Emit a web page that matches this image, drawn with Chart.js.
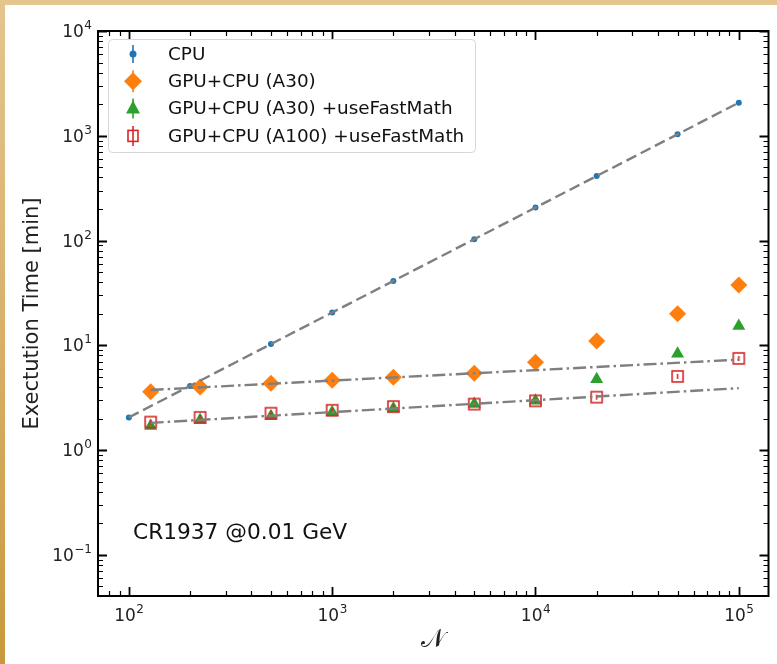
<!DOCTYPE html>
<html>
<head>
<meta charset="utf-8">
<script src="https://cdn.jsdelivr.net/npm/chart.js@4.4.1/dist/chart.umd.min.js"></script>
<style>
  html, body { margin: 0; padding: 0; }
  body {
    width: 777px; height: 664px; overflow: hidden; position: relative;
    background: linear-gradient(to bottom, #e4c58e 0%, #d8b06a 50%, #c8983c 100%);
  }
  #wrap { position: absolute; left: 5px; top: 5px; width: 772px; height: 659px; background: #fff; }
</style>
</head>
<body>
<div id="wrap"><canvas id="timing" width="772" height="659"></canvas></div>
<script>
// number of events per run
const nCpu = [100, 200, 500, 1000, 2000, 5000, 10000, 20000, 50000, 100000];
const nGpu = [128, 224, 500, 1000, 2000, 5000, 10000, 20000, 50000, 100000];

// execution time in minutes
const cpuTime = [2.05, 4.1, 10.3, 20.6, 41, 103, 207, 413, 1035, 2070];
const a30Time = [3.6, 4.0, 4.35, 4.65, 4.95, 5.4, 6.9, 11.0, 20.0, 37.7];
const a30FastTime = [1.7, 1.94, 2.1, 2.3, 2.5, 2.75, 2.95, 4.75, 8.3, 15.3];
const a100FastTime = [1.85, 2.05, 2.25, 2.4, 2.6, 2.75, 2.95, 3.2, 5.05, 7.5];

// linear fits (straight lines in log-log)
const cpuFitN = [100, 100000];
const cpuFitTime = [2.05, 2070];
const gpuFitN = [128, 100000];
const a30FitTime = [3.75, 7.3];
const fastFitTime = [1.82, 3.9];

const xTickExp = [2, 3, 4, 5];
const yTickExp = [-1, 0, 1, 2, 3, 4];

const FONT = "'DejaVu Sans', sans-serif";

function pts(xs, ys) {
  return xs.map(function (x, i) { return { x: x, y: ys[i] }; });
}

// open square with a small error bar through it
function squareMarker(size, bar) {
  const c = document.createElement('canvas');
  c.width = size + 4; c.height = Math.max(size, bar) + 4;
  const g = c.getContext('2d');
  const cx = c.width / 2, cy = c.height / 2;
  g.strokeStyle = '#d62728';
  g.lineWidth = 1.6;
  g.strokeRect(cx - size / 2, cy - size / 2, size, size);
  g.beginPath();
  g.moveTo(cx, cy - bar / 2); g.lineTo(cx, cy + bar / 2);
  g.stroke();
  return c;
}

const redSquare = squareMarker(11, 5);

const ctx = document.getElementById('timing').getContext('2d');

function drawMarker(g, kind, x, y) {
  g.save();
  if (kind === 'cpu') {
    g.fillStyle = '#1f77b4';
    g.beginPath(); g.arc(x, y, 3.5, 0, Math.PI * 2); g.fill();
    g.strokeStyle = '#1f77b4'; g.lineWidth = 1.6;
    g.beginPath(); g.moveTo(x, y - 9); g.lineTo(x, y + 9); g.stroke();
  } else if (kind === 'a30') {
    g.fillStyle = '#ff7f0e';
    g.beginPath();
    g.moveTo(x, y - 9); g.lineTo(x + 9, y); g.lineTo(x, y + 9); g.lineTo(x - 9, y);
    g.closePath(); g.fill();
    g.strokeStyle = '#ff7f0e'; g.lineWidth = 1.6;
    g.beginPath(); g.moveTo(x, y - 11); g.lineTo(x, y + 11); g.stroke();
  } else if (kind === 'a30fast') {
    g.fillStyle = '#2ca02c';
    g.beginPath();
    g.moveTo(x, y - 8); g.lineTo(x + 7, y + 5); g.lineTo(x - 7, y + 5);
    g.closePath(); g.fill();
    g.strokeStyle = '#2ca02c'; g.lineWidth = 1.6;
    g.beginPath(); g.moveTo(x, y - 10); g.lineTo(x, y + 10); g.stroke();
  } else {
    g.strokeStyle = '#d62728'; g.lineWidth = 1.6;
    g.strokeRect(x - 5, y - 5.5, 10, 11);
    g.beginPath(); g.moveTo(x, y - 10); g.lineTo(x, y + 10); g.stroke();
  }
  g.restore();
}

// ticks on all four spines, pointing inwards, plus the frame
const frame = {
  id: 'frame',
  afterDatasetsDraw(chart) {
    const g = chart.ctx;
    const a = chart.chartArea;
    const xs = chart.scales.x, ys = chart.scales.y;
    g.save();
    g.strokeStyle = '#000';
    for (let d = 1; d <= 5; d++) {
      for (let m = 1; m <= 9; m++) {
        const v = m * Math.pow(10, d);
        if (v < xs.min || v > xs.max) continue;
        const px = Math.round(xs.getPixelForValue(v)) + 0.5;
        const len = m === 1 ? 9 : 5;
        g.lineWidth = m === 1 ? 1.8 : 1.2;
        g.beginPath();
        g.moveTo(px, a.bottom); g.lineTo(px, a.bottom - len);
        g.moveTo(px, a.top); g.lineTo(px, a.top + len);
        g.stroke();
      }
    }
    for (let d = -2; d <= 4; d++) {
      for (let m = 1; m <= 9; m++) {
        const v = m * Math.pow(10, d);
        if (v < ys.min || v > ys.max * 1.0001) continue;
        const py = Math.round(ys.getPixelForValue(v)) + 0.5;
        const len = m === 1 ? 9 : 5;
        g.lineWidth = m === 1 ? 1.8 : 1.2;
        g.beginPath();
        g.moveTo(a.left, py); g.lineTo(a.left + len, py);
        g.moveTo(a.right, py); g.lineTo(a.right - len, py);
        g.stroke();
      }
    }
    g.lineWidth = 2;
    g.strokeRect(a.left, a.top, a.right - a.left, a.bottom - a.top);

    // power-of-ten tick labels
    g.fillStyle = '#222';
    g.textBaseline = 'alphabetic';
    const base = 17, sup = 12;
    xTickExp.forEach(function (e) {
      const px = xs.getPixelForValue(Math.pow(10, e));
      g.font = base + 'px ' + FONT;
      const w1 = g.measureText('10').width;
      g.font = sup + 'px ' + FONT;
      const w2 = g.measureText(String(e)).width;
      const x0 = px - (w1 + w2) / 2;
      g.font = base + 'px ' + FONT;
      g.textAlign = 'left';
      g.fillText('10', x0, a.bottom + 25);
      g.font = sup + 'px ' + FONT;
      g.fillText(String(e), x0 + w1 + 0.5, a.bottom + 17);
    });
    yTickExp.forEach(function (e) {
      const py = ys.getPixelForValue(Math.pow(10, e));
      const s = e < 0 ? '\u2212' + (-e) : String(e);
      g.font = sup + 'px ' + FONT;
      const w2 = g.measureText(s).width;
      g.font = base + 'px ' + FONT;
      const w1 = g.measureText('10').width;
      const x1 = a.left - 6;
      g.textAlign = 'left';
      g.fillText('10', x1 - w2 - w1 - 0.5, py + 6);
      g.font = sup + 'px ' + FONT;
      g.fillText(s, x1 - w2, py - 2);
    });

    // annotation
    g.font = '21.7px ' + FONT;
    g.fillStyle = '#111';
    g.textAlign = 'left';
    g.fillText('CR1937 @0.01 GeV', a.left + 35, a.top + 508);

    // legend
    const lx = a.left + 10, ly = a.top + 8, lw = 367, lh = 113;
    g.fillStyle = 'rgba(255,255,255,0.8)';
    g.strokeStyle = '#d6d6d6';
    g.lineWidth = 1;
    g.beginPath();
    g.roundRect(lx + 0.5, ly + 0.5, lw, lh, 4);
    g.fill(); g.stroke();
    const kinds = ['cpu', 'a30', 'a30fast', 'a100fast'];
    g.font = '18.4px ' + FONT;
    g.fillStyle = '#111';
    chart.data.datasets.slice(0, 4).forEach(function (ds, i) {
      const cy = ly + 15 + i * 27.3;
      drawMarker(g, kinds[i], lx + 25, cy);
      g.textBaseline = 'middle';
      g.fillText(ds.label, lx + 60, cy + 1);
    });
    g.restore();
  }
};

new Chart(ctx, {
  type: 'scatter',
  data: {
    datasets: [{
      label: 'CPU',
      data: pts(nCpu, cpuTime),
      pointStyle: 'circle',
      pointRadius: 3,
      backgroundColor: '#1f77b4',
      borderColor: '#1f77b4',
      borderWidth: 0,
      order: 5
    }, {
      label: 'GPU+CPU (A30)',
      data: pts(nGpu, a30Time),
      pointStyle: 'rectRot',
      pointRadius: 8.5,
      backgroundColor: '#ff7f0e',
      borderColor: '#ff7f0e',
      borderWidth: 0,
      order: 4
    }, {
      label: 'GPU+CPU (A30) +useFastMath',
      data: pts(nGpu, a30FastTime),
      pointStyle: 'triangle',
      pointRadius: 7.5,
      backgroundColor: '#2ca02c',
      borderColor: '#2ca02c',
      borderWidth: 0,
      order: 3
    }, {
      label: 'GPU+CPU (A100) +useFastMath',
      data: pts(nGpu, a100FastTime),
      pointStyle: redSquare,
      order: 2
    }, {
      label: 'CPU fit',
      data: pts(cpuFitN, cpuFitTime),
      showLine: true,
      pointRadius: 0,
      borderColor: '#7f7f7f',
      borderWidth: 2.4,
      borderDash: [11, 5],
      order: 1
    }, {
      label: 'A30 fit',
      data: pts(gpuFitN, a30FitTime),
      showLine: true,
      pointRadius: 0,
      borderColor: '#7f7f7f',
      borderWidth: 2.4,
      borderDash: [13, 4, 2.5, 4],
      order: 1
    }, {
      label: 'fast fit',
      data: pts(gpuFitN, fastFitTime),
      showLine: true,
      pointRadius: 0,
      borderColor: '#7f7f7f',
      borderWidth: 2.4,
      borderDash: [13, 4, 2.5, 4],
      order: 1
    }]
  },
  options: {
    responsive: false,
    animation: false,
    devicePixelRatio: 1,
    layout: { padding: { top: 26, right: 7, left: 0, bottom: 0 } },
    plugins: { legend: { display: false }, tooltip: { enabled: false } },
    scales: {
      x: {
        type: 'logarithmic',
        min: 70.5,
        max: 140000,
        grid: { display: false },
        border: { display: false },
        ticks: { display: false },
        title: {
          display: true,
          text: '\uD835\uDCA9',
          font: { family: FONT, size: 25 },
          color: '#222',
          padding: { top: 0, bottom: 9 }
        },
        afterFit: function (s) { s.height = 68; }
      },
      y: {
        type: 'logarithmic',
        min: 0.0405,
        max: 10000,
        grid: { display: false },
        border: { display: false },
        ticks: { display: false },
        title: {
          display: true,
          text: 'Exectution Time [min]',
          font: { family: FONT, size: 21 },
          color: '#222',
          padding: { top: 15, bottom: 0 }
        },
        afterFit: function (s) { s.width = 93; }
      }
    }
  },
  plugins: [frame]
});
</script>
</body>
</html>
